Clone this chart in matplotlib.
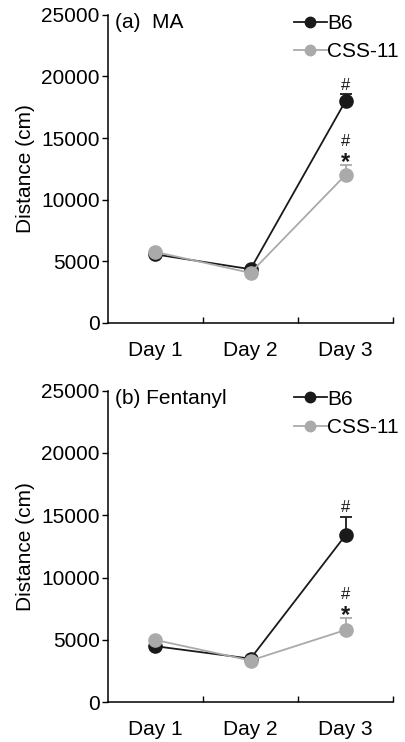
import matplotlib
matplotlib.use("Agg")
import matplotlib.pyplot as plt
from matplotlib.lines import Line2D

days = ["Day 1", "Day 2", "Day 3"]
positions = [0.5, 1.5, 2.5]

# (a) MA
ma_b6 = [5550, 4350, 18000]
ma_b6_err = [0, 0, 600]
ma_css = [5750, 4050, 12000]
ma_css_err = [0, 0, 800]

# (b) Fentanyl
fen_b6 = [4500, 3500, 13400]
fen_b6_err = [0, 0, 1500]
fen_css = [5000, 3350, 5800]
fen_css_err = [0, 0, 950]

BLACK = "#1a1a1a"
GRAY = "#aaaaaa"
FS = 15

plt.rcParams["font.family"] = ["Liberation Sans", "DejaVu Sans"]
plt.rcParams["font.size"] = FS

fig = plt.figure(figsize=(4.06, 7.42), dpi=100)


def mark(ax, x, y, s, dy, fs, **kw):
    # dy in points above the error bar cap
    ax.annotate(s, (x, y), xytext=(0, dy), textcoords="offset points",
                ha="center", va="baseline", fontsize=fs, color=BLACK, **kw)


def draw_panel(ax, b6, b6_err, css, css_err, title):
    ax.errorbar(positions, b6, yerr=[[0, 0, 0], b6_err], color=BLACK, marker="o",
                markersize=9.5, linewidth=1.3, capsize=4, elinewidth=1.3, capthick=1.3,
                zorder=3)
    ax.errorbar(positions, css, yerr=[[0, 0, 0], css_err], color=GRAY, marker="o",
                markersize=9.5, linewidth=1.3, capsize=4, elinewidth=1.3, capthick=1.3,
                zorder=4)

    # significance marks over day 3
    mark(ax, positions[2], b6[2] + b6_err[2], "#", 3, 12)
    mark(ax, positions[2], css[2] + css_err[2], "*", -2.5, 17, fontweight="bold")
    mark(ax, positions[2], css[2] + css_err[2], "#", 14, 12)

    ax.set_xlim(0, 3)
    ax.set_ylim(0, 25000)
    ax.set_yticks([0, 5000, 10000, 15000, 20000, 25000])
    ax.set_xticks([1, 2, 3])
    ax.set_xticklabels([])
    ax.set_xticks(positions, minor=True)
    ax.set_xticklabels(days, minor=True)
    ax.tick_params(axis="x", which="major", direction="in", length=4, width=1)
    ax.tick_params(axis="x", which="minor", length=0, pad=13)
    ax.tick_params(axis="y", direction="out", length=4, width=1, pad=2)
    ax.spines["top"].set_visible(False)
    ax.spines["right"].set_visible(False)
    ax.spines["left"].set_linewidth(1.1)
    ax.spines["bottom"].set_linewidth(1.1)
    ax.set_ylabel("Distance (cm)", labelpad=4)
    ax.text(0.025, 0.975, title, transform=ax.transAxes, ha="left", va="center")

    handles = [
        Line2D([], [], color=BLACK, marker="o", markersize=7.5, linewidth=1.3),
        Line2D([], [], color=GRAY, marker="o", markersize=7.5, linewidth=1.3),
    ]
    ax.legend(handles, ["B6", "CSS-11"], loc="upper left", bbox_to_anchor=(0.6, 1.05),
              frameon=False, handlelength=1.6, handletextpad=0.0, borderpad=0.2,
              labelspacing=0.45, fontsize=FS)


ax1 = fig.add_axes([0.266, 0.565, 0.702, 0.415])
draw_panel(ax1, ma_b6, ma_b6_err, ma_css, ma_css_err, "(a)  MA")

ax2 = fig.add_axes([0.266, 0.0535, 0.702, 0.42])
draw_panel(ax2, fen_b6, fen_b6_err, fen_css, fen_css_err, "(b) Fentanyl")

fig.savefig("out.png", dpi=100)
